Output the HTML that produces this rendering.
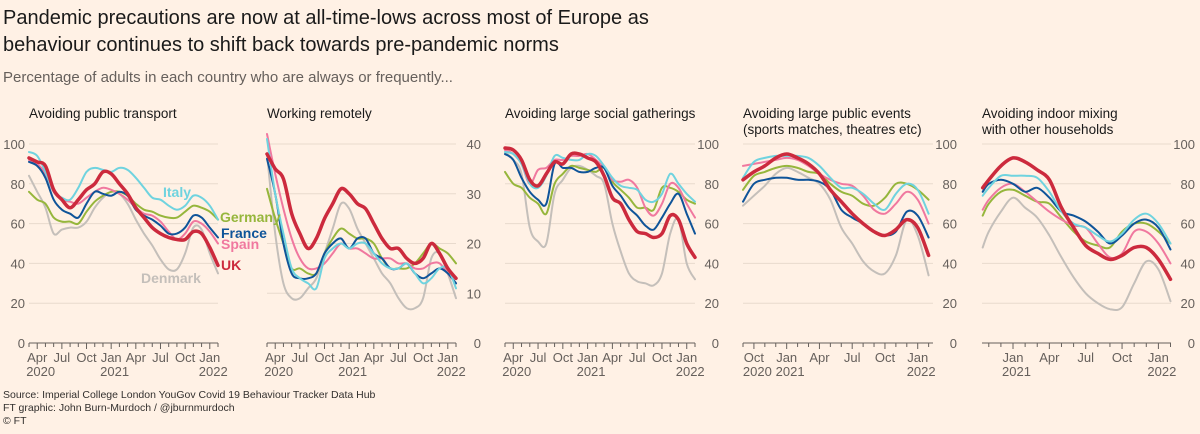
<!DOCTYPE html>
<html><head><meta charset="utf-8">
<style>
html,body{margin:0;padding:0;background:#fff1e5;}
body{width:1200px;height:429px;overflow:hidden;font-family:"Liberation Sans",sans-serif;}
svg text{font-family:"Liberation Sans",sans-serif;}
</style></head>
<body>
<svg id="chart" width="1200" height="429" viewBox="0 0 1200 429" xmlns="http://www.w3.org/2000/svg">
<rect width="1200" height="429" fill="#fff1e5"/>
<text x="3" y="24" font-size="20" fill="#1a1a1a">Pandemic precautions are now at all-time-lows across most of Europe as</text>
<text x="3" y="51" font-size="20" fill="#1a1a1a">behaviour continues to shift back towards pre-pandemic norms</text>
<text x="3" y="82" font-size="15" fill="#66605c">Percentage of adults in each country who are always or frequently...</text>
<text x="3" y="398" font-size="10.5" fill="#33302e">Source: Imperial College London YouGov Covid 19 Behaviour Tracker Data Hub</text>
<text x="3" y="411" font-size="10.5" fill="#33302e">FT graphic: John Burn-Murdoch / @jburnmurdoch</text>
<text x="3" y="424" font-size="10.5" fill="#33302e">© FT</text>
<g id="panels"></g>
</svg>
<script>
// ---- data (months since Mar 2020 for panels 1-3; since Sep 2020 for panel 4; since Oct 2020 for panel 5)
const monthsA = [0,1,2,3,4,5,6,7,8,9,10,11,12,13,14,15,16,17,18,19,20,21,22,23];
const monthsB = [0,1,2,3,4,5,6,7,8,9,10,11,12,13,14,15,16,17];
const monthsC = [0.5,1,2,3,4,5,6,7,8,9,10,11,12,13,14,15,16];

const transportUK = [93,91,89,77,72,68,72,77,80,86,85,80,75,68,63,58,55,53,52,52,56,55,48,39];
const transportItaly = [96,94,86,76,73,72,78,86,88,87,86,88,87,83,78,73,72,69,67,69,74,73,69,62];
const transportFrance = [91,89,83,72,67,65,63,70,76,75,74,76,74,67,64,62,59,55,55,58,64,63,58,53];
const transportSpain = [92,90,85,76,72,71,70,73,76,78,77,75,72,68,65,64,61,56,52,55,61,60,56,50];
const transportGermany = [76,72,70,63,61,61,60,66,71,74,76,76,74,70,67,66,64,63,63,66,69,68,66,62];
const transportDenmark = [84,76,68,55,57,58,58,61,68,73,76,75,70,62,55,49,42,37,37,45,58,57,45,35];

const remoteUK = [38,35,33,26,22,19,21,25,28,31,30,28,27,24,21,19,19,17,16,17,20,18,15,13];
const remoteItaly = [41,30,22,15,13,12,11,17,19,20,19,20,20,18,16,15,15,16,14,12,13,15,15,11];
const remoteFrance = [37,30,20,14,13,13,14,18,20,21,19,21,21,18,17,15,15,16,14,13,14,15,14,12];
const remoteSpain = [42,34,27,21,17,15,15,16,18,20,19,19,18,17,17,17,16,16,15,15,16,16,14,12];
const remoteGermany = [31,25,20,15,15,14,14,18,21,23,22,21,21,20,17,15,15,15,16,18,20,19,18,16];
const remoteDenmark = [38,22,12,9,9,11,13,18,23,28,27,23,20,17,14,12,9,7,7,9,17,18,14,9];

const socialUK = [98,97,92,82,79,85,91,90,95,95,93,91,84,73,70,62,56,55,53,55,64,62,50,43];
const socialItaly = [96,95,90,80,78,84,94,93,92,92,95,94,89,83,79,78,77,72,71,75,85,80,75,71];
const socialFrance = [95,92,83,76,72,70,90,88,88,86,86,88,88,79,74,68,64,59,57,63,70,75,65,55];
const socialSpain = [97,95,90,80,87,88,92,92,94,94,95,92,88,82,81,82,78,68,64,70,80,78,70,63];
const socialGermany = [86,80,78,73,70,65,80,85,89,88,87,86,88,81,77,73,68,68,67,78,78,76,72,70];
const socialDenmark = [96,92,85,58,51,50,75,82,88,89,87,84,80,60,46,35,31,30,29,35,55,62,40,32];

const eventsUK = [82,86,89,93,95,93,90,85,77,71,65,60,56,54,57,62,58,44];
const eventsItaly = [83,91,93,94,94,94,93,89,83,78,78,75,70,67,75,80,77,65];
const eventsFrance = [71,80,82,83,83,82,82,81,77,67,63,60,56,54,56,66,64,53];
const eventsSpain = [89,90,91,92,93,92,89,85,82,80,79,74,67,65,70,76,72,60];
const eventsGermany = [77,84,86,88,89,88,86,85,80,76,74,70,69,73,80,80,77,72];
const eventsDenmark = [69,74,79,85,88,86,83,80,72,58,50,41,36,35,44,62,54,34];

const mixingUK = [78,82,89,93,91,87,82,68,58,49,45,42,44,48,48,42,32];
const mixingItaly = [74,78,84,84,84,83,76,66,60,58,54,51,55,62,65,60,50];
const mixingFrance = [76,80,82,80,76,78,73,66,64,61,56,50,54,60,62,58,47];
const mixingSpain = [67,72,78,80,76,71,66,62,59,58,50,43,45,56,56,50,40];
const mixingGermany = [64,70,76,77,74,71,70,63,56,51,49,48,56,60,60,56,50];
const mixingDenmark = [48,56,66,73,68,63,54,43,33,25,20,17,18,30,41,37,21];

const ticksPct = [0,20,40,60,80,100];
const ticksRemote = [0,10,20,30,40];
const monthLabelsA = ["Apr","Jul","Oct","Jan","Apr","Jul","Oct","Jan"];
const monthLabelPosA = [1,4,7,10,13,16,19,22];
const yearLabelsA = ["2020","2021","2022"];
const yearLabelPosA = [1,10,22];
const monthLabelsB = ["Oct","Jan","Apr","Jul","Oct","Jan"];
const monthLabelPosB = [1,4,7,10,13,16];
const yearLabelsB = ["2020","2021","2022"];
const yearLabelPosB = [1,4,16];
const monthLabelsC = ["Jan","Apr","Jul","Oct","Jan"];
const monthLabelPosC = [3,6,9,12,15];
const yearLabelsC = ["2021","2022"];
const yearLabelPosC = [3,15];

const colors = {Denmark:"#c4bfba",Germany:"#96b63c",Spain:"#f0789f",France:"#0f5499",Italy:"#6fd3df",UK:"#cc2a3d"};
const NS="http://www.w3.org/2000/svg";
const root=document.getElementById('panels');
function mk(tag,attrs,parent){const e=document.createElementNS(NS,tag);for(const k in attrs)e.setAttribute(k,attrs[k]);(parent||root).appendChild(e);return e;}
function smooth(pts){
  let d="M"+pts[0][0].toFixed(1)+","+pts[0][1].toFixed(1);
  for(let i=0;i<pts.length-1;i++){
    const p0=pts[i-1]||pts[i],p1=pts[i],p2=pts[i+1],p3=pts[i+2]||p2;
    const c1=[p1[0]+(p2[0]-p0[0])/6,p1[1]+(p2[1]-p0[1])/6];
    const c2=[p2[0]-(p3[0]-p1[0])/6,p2[1]-(p3[1]-p1[1])/6];
    d+="C"+c1[0].toFixed(1)+","+c1[1].toFixed(1)+" "+c2[0].toFixed(1)+","+c2[1].toFixed(1)+" "+p2[0].toFixed(1)+","+p2[1].toFixed(1);
  }
  return d;
}
function panel(cfg){
  const g=mk('g',{});
  
  
  const x=m=>cfg.x0+(m-cfg.d0)/(cfg.d1-cfg.d0)*(cfg.x1-cfg.x0);
  const y=v=>343-v/cfg.ymax*199;
  cfg.title.forEach((t,i)=>{const e=mk('text',{x:cfg.x0,y:118+i*16,'font-size':13.5,fill:'#1a1a1a'},g);e.textContent=t;
    
    });
  cfg.yticks.forEach(v=>{
    if(v>0){const l=mk('line',{x1:cfg.x0,x2:cfg.x1,y1:y(v),y2:y(v),stroke:'#e8dacd','stroke-width':1},g);
      
      }
    const t=mk('text',{x:cfg.labX,y:y(v)+5,'font-size':13,fill:'#66605c','text-anchor':'end'},g);t.textContent=v;
    
    
  });
  const ax=mk('line',{x1:cfg.x0,x2:cfg.x1,y1:343,y2:343,stroke:'#66605c','stroke-width':1},g);
  
  
  for(let m=Math.ceil(cfg.d0);m<=cfg.d1;m++){
    const tk=mk('line',{x1:x(m),x2:x(m),y1:343,y2:cfg.monthPos.includes(m)?349:347,stroke:'#66605c','stroke-width':1},g);
    
    
  }
  cfg.monthLabels.forEach((s,i)=>{const t=mk('text',{x:x(cfg.monthPos[i]),y:362,'font-size':13,fill:'#66605c','text-anchor':'middle'},g);t.textContent=s;
    
    });
  cfg.yearLabels.forEach((s,i)=>{const t=mk('text',{x:x(cfg.yearPos[i])-11,y:376,'font-size':13,fill:'#66605c'},g);t.textContent=s;
    
    });
  ["Denmark","Germany","Spain","France","Italy","UK"].forEach(c=>{
    const vals=cfg.series[c];
    const pts=vals.map((v,i)=>[x(cfg.months[i]),y(v)]);
    const p=mk('path',{d:smooth(pts),fill:'none',stroke:colors[c],'stroke-width':c==="UK"?3.5:2,'stroke-linejoin':'round','stroke-linecap':'round'},g);
    
    
  });
  return g;
}
panel({name:'panel-public-transport',title:["Avoiding public transport"],x0:29,x1:218,d0:0,d1:23,ymax:100,yticks:ticksPct,labX:25,months:monthsA,monthLabels:monthLabelsA,monthPos:monthLabelPosA,yearLabels:yearLabelsA,yearPos:yearLabelPosA,
  series:{UK:transportUK,Italy:transportItaly,France:transportFrance,Spain:transportSpain,Germany:transportGermany,Denmark:transportDenmark}});
panel({name:'panel-working-remotely',title:["Working remotely"],x0:267,x1:456,d0:0,d1:23,ymax:40,yticks:ticksRemote,labX:481,months:monthsA,monthLabels:monthLabelsA,monthPos:monthLabelPosA,yearLabels:yearLabelsA,yearPos:yearLabelPosA,
  series:{UK:remoteUK,Italy:remoteItaly,France:remoteFrance,Spain:remoteSpain,Germany:remoteGermany,Denmark:remoteDenmark}});
panel({name:'panel-social-gatherings',title:["Avoiding large social gatherings"],x0:505,x1:695,d0:0,d1:23,ymax:100,yticks:ticksPct,labX:719,months:monthsA,monthLabels:monthLabelsA,monthPos:monthLabelPosA,yearLabels:yearLabelsA,yearPos:yearLabelPosA,
  series:{UK:socialUK,Italy:socialItaly,France:socialFrance,Spain:socialSpain,Germany:socialGermany,Denmark:socialDenmark}});
panel({name:'panel-public-events',title:["Avoiding large public events","(sports matches, theatres etc)"],x0:743,x1:933,d0:0,d1:17.4,ymax:100,yticks:ticksPct,labX:957,months:monthsB,monthLabels:monthLabelsB,monthPos:monthLabelPosB,yearLabels:yearLabelsB,yearPos:yearLabelPosB,
  series:{UK:eventsUK,Italy:eventsItaly,France:eventsFrance,Spain:eventsSpain,Germany:eventsGermany,Denmark:eventsDenmark}});
panel({name:'panel-indoor-mixing',title:["Avoiding indoor mixing","with other households"],x0:982,x1:1171,d0:0.44,d1:16.04,ymax:100,yticks:ticksPct,labX:1195,months:monthsC,monthLabels:monthLabelsC,monthPos:monthLabelPosC,yearLabels:yearLabelsC,yearPos:yearLabelPosC,
  series:{UK:mixingUK,Italy:mixingItaly,France:mixingFrance,Spain:mixingSpain,Germany:mixingGermany,Denmark:mixingDenmark}});
// country labels in first panel
[["Italy",163,197],["Germany",220,222],["France",221,238],["Spain",221,249],["UK",221,270],["Denmark",141,283]].forEach(a=>{
  const t=mk('text',{x:a[1],y:a[2],'font-size':14,'font-weight':'bold',fill:colors[a[0]]});
  t.textContent=a[0];
  
  
});
</script>
</body></html>
